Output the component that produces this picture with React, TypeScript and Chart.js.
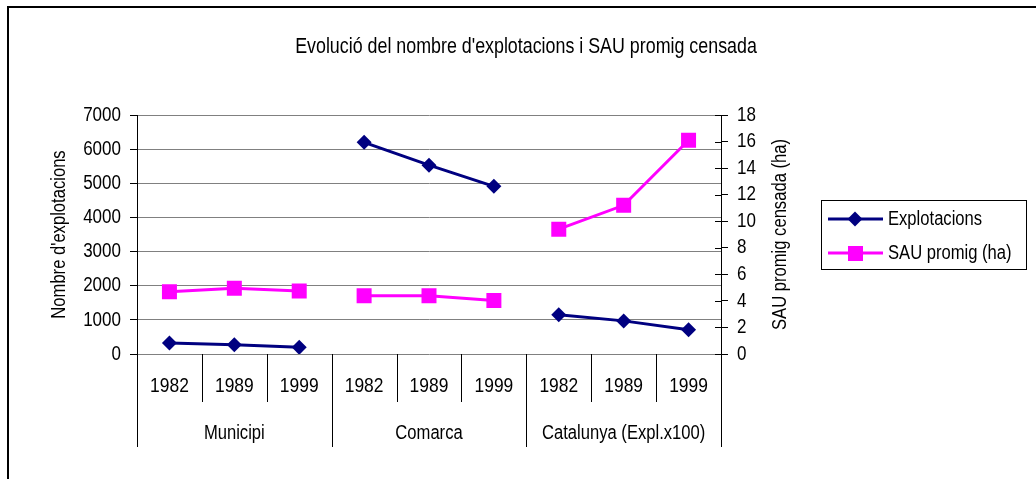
import React, { useEffect, useRef } from "react";
import { Chart, registerables } from "chart.js";

Chart.register(...registerables);

const years = ["1982", "1989", "1999", "1982", "1989", "1999", "1982", "1989", "1999"];
const groups = ["Municipi", "Comarca", "Catalunya (Expl.x100)"];
const explotacions = [320, 270, 195, 6200, 5530, 4910, 1150, 970, 710];
const sauPromig = [4.68, 4.95, 4.75, 4.38, 4.38, 4.03, 9.4, 11.2, 16.1];
const leftTicks = [0, 1000, 2000, 3000, 4000, 5000, 6000, 7000];
const rightTicks = [0, 2, 4, 6, 8, 10, 12, 14, 16, 18];

const FONT = "'Liberation Sans', Arial, sans-serif";
const NARROW = 0.83;
const NAVY = "#000080";
const MAGENTA = "#FF00FF";

function txt(ctx: any, s: string, x: number, y: number, align: string, rot = 0, size = 20) {
  ctx.save();
  ctx.translate(x, y);
  if (rot) ctx.rotate(rot);
  ctx.scale(NARROW, 1);
  ctx.font = `${size}px ${FONT}`;
  ctx.textAlign = align;
  ctx.textBaseline = "middle";
  ctx.fillStyle = "#000";
  ctx.fillText(s, 0, 0);
  ctx.restore();
}

const overlay = {
  id: "overlay",
  afterDraw(chart: any) {
    const ctx = chart.ctx;
    const area = chart.chartArea;
    const xs = chart.scales.x;
    const y0 = chart.scales.y;
    const y1 = chart.scales.y1;
    ctx.save();
    // frame
    ctx.fillStyle = "#000";
    ctx.fillRect(7, 6, 2, 480);
    ctx.fillRect(7, 6, 1036, 2);
    // title
    txt(ctx, "Evolució del nombre d'explotacions i SAU promig censada", 526, 47, "center", 0, 21.5);
    // axis titles
    const cy = (area.top + area.bottom) / 2;
    txt(ctx, "Nombre d'explotacions", 59, cy, "center", -Math.PI / 2);
    txt(ctx, "SAU promig censada (ha)", 780, cy, "center", -Math.PI / 2);
    // tick labels
    leftTicks.forEach((v) => txt(ctx, String(v), 121, y0.getPixelForValue(v), "right", 0, 20.5));
    rightTicks.forEach((v) => txt(ctx, String(v), 737, y1.getPixelForValue(v), "left", 0, 20.5));
    // right inner ticks
    ctx.strokeStyle = "#000";
    ctx.lineWidth = 1;
    rightTicks.forEach((v) => {
      const py = Math.round(y1.getPixelForValue(v)) + 0.5;
      ctx.beginPath();
      ctx.moveTo(area.right - 6, py);
      ctx.lineTo(area.right, py);
      ctx.stroke();
    });
    // x axis category separators and labels
    const n = years.length;
    const step = (area.right - area.left) / n;
    for (let i = 0; i <= n; i++) {
      const px = Math.round(area.left + i * step) + 0.5;
      const long = i % 3 === 0;
      ctx.beginPath();
      ctx.moveTo(px, area.bottom);
      ctx.lineTo(px, long ? 447 : 402);
      ctx.stroke();
    }
    years.forEach((yr, i) => txt(ctx, yr, xs.getPixelForValue(i), 386, "center", 0, 21));
    groups.forEach((g, gi) => {
      const cx = (xs.getPixelForValue(gi * 3) + xs.getPixelForValue(gi * 3 + 2)) / 2;
      txt(ctx, g, cx, 433, "center");
    });
    // legend
    ctx.strokeStyle = "#000";
    ctx.lineWidth = 1;
    ctx.strokeRect(821.5, 200.5, 205, 69);
    const rows = [
      { label: "Explotacions", color: NAVY, style: "diamond", y: 219 },
      { label: "SAU promig (ha)", color: MAGENTA, style: "square", y: 253 },
    ];
    rows.forEach((r) => {
      ctx.strokeStyle = r.color;
      ctx.lineWidth = 3;
      ctx.beginPath();
      ctx.moveTo(828, r.y);
      ctx.lineTo(883, r.y);
      ctx.stroke();
      ctx.fillStyle = r.color;
      ctx.beginPath();
      if (r.style === "diamond") {
        ctx.moveTo(855, r.y - 7.5);
        ctx.lineTo(862.5, r.y);
        ctx.lineTo(855, r.y + 7.5);
        ctx.lineTo(847.5, r.y);
        ctx.closePath();
      } else {
        ctx.rect(848, r.y - 7, 15, 15);
      }
      ctx.fill();
      txt(ctx, r.label, 888, r.y, "left");
    });
    ctx.restore();
  },
};

export default function App() {
  const ref = useRef<HTMLCanvasElement>(null);
  useEffect(() => {
    document.body.style.margin = "0";
    document.body.style.overflow = "hidden";
    const brk = (color: string) => (c: any) => (c.p1DataIndex % 3 === 0 ? "rgba(0,0,0,0)" : color);
    const chart = new Chart(ref.current!, {
      type: "line",
      data: {
        labels: years.map((y, i) => `${groups[Math.floor(i / 3)]} ${y}`),
        datasets: [
          {
            label: "Explotacions",
            data: explotacions,
            yAxisID: "y",
            borderColor: NAVY,
            backgroundColor: NAVY,
            borderWidth: 3,
            pointStyle: "rectRot",
            pointRadius: 7.5,
            pointHoverRadius: 7.5,
            pointBorderWidth: 0,
            segment: { borderColor: brk(NAVY) },
          },
          {
            label: "SAU promig (ha)",
            data: sauPromig,
            yAxisID: "y1",
            borderColor: MAGENTA,
            backgroundColor: MAGENTA,
            borderWidth: 3,
            pointStyle: "rect",
            pointRadius: 10.6,
            pointHoverRadius: 10.6,
            pointBorderWidth: 0,
            segment: { borderColor: brk(MAGENTA) },
          },
        ],
      },
      options: {
        animation: false,
        responsive: false,
        devicePixelRatio: 1,
        layout: { padding: { top: 115, bottom: 125, left: 0, right: 235 } },
        plugins: { legend: { display: false }, title: { display: false }, tooltip: { enabled: false } },
        scales: {
          x: { type: "category", offset: true, display: false },
          y: {
            position: "left",
            min: 0,
            max: 7000,
            afterFit: (s: any) => { s.width = 137; },
            afterBuildTicks: (s: any) => { s.ticks = leftTicks.map((v) => ({ value: v })); },
            ticks: { display: false, autoSkip: false },
            grid: { color: "#808080", tickColor: "#000", tickLength: 7, lineWidth: 1 },
            border: { display: true, color: "#000", width: 1 },
          },
          y1: {
            position: "right",
            min: 0,
            max: 18,
            afterFit: (s: any) => { s.width = 80; },
            afterBuildTicks: (s: any) => { s.ticks = rightTicks.map((v) => ({ value: v })); },
            ticks: { display: false, autoSkip: false },
            grid: { drawOnChartArea: false, color: "#000", tickLength: 7 },
            border: { display: true, color: "#000", width: 1 },
          },
        },
      },
      plugins: [overlay],
    });
    return () => chart.destroy();
  }, []);
  return <canvas ref={ref} width={1036} height={479} style={{ display: "block" }} />;
}
